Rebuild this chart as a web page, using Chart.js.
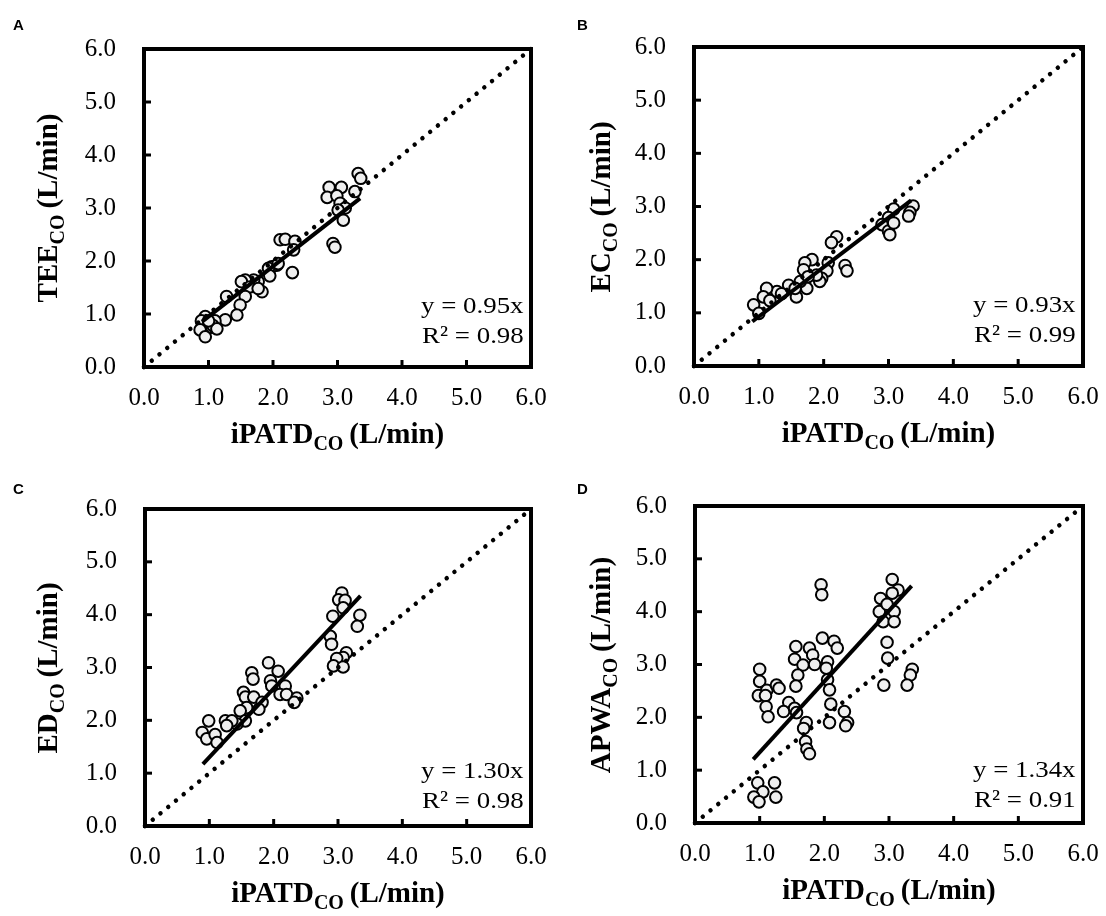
<!DOCTYPE html>
<html>
<head>
<meta charset="utf-8">
<script src="https://cdn.jsdelivr.net/npm/chart.js@4.4.0/dist/chart.umd.min.js"></script>
<style>
body{margin:0;background:#fff;}
#wrap{position:relative;width:1106px;height:916px;overflow:hidden;font-family:"Liberation Serif","Times New Roman",serif;color:#000;}
.panel{position:absolute;width:553px;height:458px;}
.letter{position:absolute;font-family:"Liberation Sans",Arial,sans-serif;font-weight:bold;font-size:15px;line-height:15px;}
.xt,.yt{position:absolute;font-weight:bold;font-size:29px;line-height:29px;white-space:nowrap;}
.xt{transform:translate(-50%,-50%);}
.yt{transform:translate(-50%,-50%) rotate(-90deg);}
.xt sub,.yt sub{font-size:20px;vertical-align:-7px;line-height:0;}
.eq{position:absolute;font-size:24px;line-height:24px;white-space:nowrap;text-align:right;transform:scaleX(1.12);transform-origin:right center;}
</style>
</head>
<body>
<div id="wrap"></div>
<script>
// iPATD vs TEE
let teeX = [3.32,3.36,2.87,3.06,2.84,2.99,3.27,3.04,3.12,3.01,3.09,2.93,2.96,2.11,2.19,2.34,2.32,2.06,1.98,1.93,2.08,1.95,2.30,1.77,1.70,1.57,1.51,1.64,1.83,1.77,1.57,1.49,1.44,1.28,1.26,1.10,0.95,0.89,0.87,0.95,1.05,1.07,1.13,1.00];
let teeY = [3.65,3.56,3.39,3.39,3.20,3.23,3.31,3.09,3.00,2.96,2.77,2.33,2.26,2.40,2.41,2.37,2.21,1.92,1.89,1.86,1.95,1.72,1.78,1.61,1.64,1.64,1.61,1.51,1.42,1.48,1.33,1.17,0.98,1.33,0.89,0.87,0.95,0.87,0.70,0.57,0.75,0.78,0.72,0.87];
// iPATD vs EC
let ecX = [3.38,3.33,3.31,3.08,3.00,2.90,3.00,3.02,3.08,2.20,2.12,1.82,1.71,1.69,2.07,2.05,1.97,1.94,2.33,2.36,1.74,1.64,1.58,1.46,1.28,1.12,1.07,0.92,1.00,1.17,1.35,1.56,1.89,1.76];
let ecY = [3.01,2.89,2.82,2.95,2.79,2.66,2.54,2.47,2.69,2.43,2.32,2.00,1.94,1.81,1.94,1.79,1.65,1.59,1.89,1.79,1.46,1.59,1.30,1.52,1.40,1.46,1.30,1.15,0.99,1.23,1.36,1.46,1.71,1.68];
// iPATD vs ED
let edX = [3.06,3.01,3.11,3.08,2.92,3.34,3.30,2.88,2.90,3.13,3.08,2.98,2.93,3.08,1.92,1.66,1.68,2.07,1.95,1.97,2.18,2.10,2.20,2.36,2.32,1.53,1.56,1.69,1.82,1.77,1.58,1.48,1.56,1.43,1.25,1.35,1.27,0.99,0.89,0.96,1.09,1.12];
let edY = [4.41,4.28,4.27,4.13,3.97,3.99,3.78,3.59,3.44,3.28,3.19,3.17,3.03,3.01,3.09,2.90,2.78,2.93,2.75,2.65,2.65,2.49,2.49,2.42,2.34,2.53,2.44,2.44,2.34,2.21,2.24,2.18,1.99,1.93,1.99,1.99,1.90,1.99,1.77,1.65,1.73,1.58];
// iPATD vs APWA
let apwaX = [3.05,3.14,3.05,2.87,3.08,2.85,2.91,3.08,2.97,2.97,2.98,2.92,3.36,3.33,3.28,1.95,1.96,1.97,2.15,2.20,1.56,1.77,1.82,1.54,1.67,1.85,2.05,2.03,1.59,1.56,2.05,2.08,2.10,2.08,2.31,2.36,2.33,1.00,1.00,1.11,0.98,1.09,1.10,1.13,1.26,1.30,1.45,1.37,1.54,1.57,1.72,1.68,1.71,1.73,1.77,0.97,1.23,1.05,0.91,0.99,1.25];
let apwaY = [4.61,4.41,4.35,4.25,4.00,4.00,3.81,3.81,4.14,3.42,3.12,2.61,2.91,2.80,2.61,4.51,4.32,3.50,3.44,3.31,3.34,3.31,3.18,3.10,2.99,3.00,3.05,2.93,2.80,2.59,2.71,2.52,2.25,1.90,2.11,1.90,1.84,2.91,2.68,2.51,2.41,2.41,2.20,2.01,2.61,2.55,2.28,2.11,2.17,2.09,1.90,1.79,1.54,1.40,1.31,0.76,0.76,0.59,0.49,0.40,0.49];

let tickValues = [0,1,2,3,4,5,6];
let slopes = [0.95, 0.93, 1.30, 1.34];
let r2Values = ['0.98', '0.99', '0.98', '0.91'];
let fitX = [0.9, 3.35];
let yNames = ['TEE', 'EC', 'ED', 'APWA'];
let letters = ['A', 'B', 'C', 'D'];
let seriesX = [teeX, ecX, edX, apwaX];
let seriesY = [teeY, ecY, edY, apwaY];

// panel placement (left, top) and chart area inside each panel
let layout = [
  {left:0,   top:0,   l:144, r:531, t:49, b:367, eq:0},
  {left:553, top:0,   l:141, r:530, t:47, b:366, eq:0},
  {left:0,   top:458, l:145, r:531, t:51, b:368, eq:6},
  {left:553, top:458, l:142, r:530, t:48, b:365, eq:8},
];

let serif = '"Liberation Serif","Times New Roman",serif';

const framePlugin = {
  id: 'frame',
  afterDraw(chart) {
    let ctx = chart.ctx;
    let a = chart.chartArea;
    let xs = chart.scales.x, ys = chart.scales.y;
    ctx.save();
    ctx.strokeStyle = '#000';
    ctx.lineWidth = 3;
    for (let i = 1; i < tickValues.length - 1; i++) {
      let px = xs.getPixelForValue(tickValues[i]);
      ctx.beginPath();
      ctx.moveTo(px, a.bottom);
      ctx.lineTo(px, a.bottom - 7);
      ctx.stroke();
      let py = ys.getPixelForValue(tickValues[i]);
      ctx.beginPath();
      ctx.moveTo(a.left, py);
      ctx.lineTo(a.left + 7, py);
      ctx.stroke();
    }
    ctx.lineWidth = 4;
    ctx.strokeRect(a.left, a.top, a.right - a.left, a.bottom - a.top);
    ctx.restore();
  }
};

function makePanel(i) {
  let lay = layout[i];
  let wrap = document.getElementById('wrap');
  let div = document.createElement('div');
  div.className = 'panel';
  div.style.left = lay.left + 'px';
  div.style.top = lay.top + 'px';
  let cv = document.createElement('canvas');
  cv.width = 553; cv.height = 458;
  cv.style.width = '553px'; cv.style.height = '458px';
  div.appendChild(cv);
  wrap.appendChild(div);

  let pts = seriesX[i].map(function(x, k) { return {x: x, y: seriesY[i][k]}; });
  let fit = fitX.map(function(x) { return {x: x, y: x * slopes[i]}; });

  new Chart(cv.getContext('2d'), {
    type: 'scatter',
    data: {
      datasets: [
        {type: 'line', data: fit, borderColor: '#000', borderWidth: 4, pointRadius: 0, fill: false},
        {type: 'line', data: [{x: 0, y: 0}, {x: 6, y: 6}], borderColor: '#000', borderWidth: 4.5,
          borderDash: [0.01, 10], borderCapStyle: 'round', pointRadius: 0, fill: false},
        {data: pts, pointRadius: 5.8, pointBorderWidth: 2, pointBackgroundColor: '#efefef', pointBorderColor: '#000'},
      ],
    },
    options: {
      responsive: false,
      animation: false,
      clip: false,
      layout: {padding: {top: lay.t, right: 553 - lay.r, left: 0, bottom: 0}},
      plugins: {legend: {display: false}, tooltip: {enabled: false}},
      scales: {
        x: {
          type: 'linear', min: 0, max: 6,
          afterFit: function(s) { s.height = 458 - lay.b; s.paddingLeft = 0; s.paddingRight = 0; },
          afterBuildTicks: function(s) { s.ticks = tickValues.map(function(v) { return {value: v}; }); },
          grid: {display: false, drawTicks: false},
          border: {display: false},
          ticks: {padding: 16, color: '#000', maxRotation: 0, font: {family: serif, size: 25},
            callback: function(v) { return Number(v).toFixed(1); }},
        },
        y: {
          type: 'linear', min: 0, max: 6,
          afterFit: function(s) { s.width = lay.l; s.paddingTop = 0; s.paddingBottom = 0; },
          afterBuildTicks: function(s) { s.ticks = tickValues.map(function(v) { return {value: v}; }); },
          grid: {display: false, drawTicks: false},
          border: {display: false},
          ticks: {padding: 28, color: '#000', font: {family: serif, size: 25},
            callback: function(v) { return Number(v).toFixed(1); }},
        },
      },
    },
    plugins: [framePlugin],
  });

  // texts
  let cx = lay.left + (lay.l + lay.r) / 2;
  let cy = lay.top + (lay.t + lay.b) / 2;

  let letter = document.createElement('div');
  letter.className = 'letter';
  letter.textContent = letters[i];
  letter.style.left = (lay.left + (i % 2 ? 24 : 13)) + 'px';
  letter.style.top = (lay.top + (i < 2 ? 17 : 23)) + 'px';
  wrap.appendChild(letter);

  let xt = document.createElement('div');
  xt.className = 'xt';
  xt.innerHTML = 'iPATD<sub>CO</sub>\u2009(L/min)';
  xt.style.left = cx + 'px';
  xt.style.top = (lay.top + lay.b + 66) + 'px';
  wrap.appendChild(xt);

  let yt = document.createElement('div');
  yt.className = 'yt';
  yt.innerHTML = yNames[i] + '<sub>CO</sub>\u2009(L/min)';
  yt.style.left = (lay.left + 47) + 'px';
  yt.style.top = cy + 'px';
  wrap.appendChild(yt);

  let eqRight = 1106 - (lay.left + lay.r - 7);
  let lines = ['y = ' + slopes[i].toFixed(2) + 'x', 'R\u00b2 = ' + r2Values[i]];
  lines.forEach(function(t, k) {
    let e = document.createElement('div');
    e.className = 'eq';
    e.textContent = t;
    e.style.right = eqRight + 'px';
    e.style.top = (lay.top + lay.b - 74 + lay.eq + k * 30) + 'px';
    wrap.appendChild(e);
  });
}

for (let i = 0; i < 4; i++) makePanel(i);
</script>
</body>
</html>
